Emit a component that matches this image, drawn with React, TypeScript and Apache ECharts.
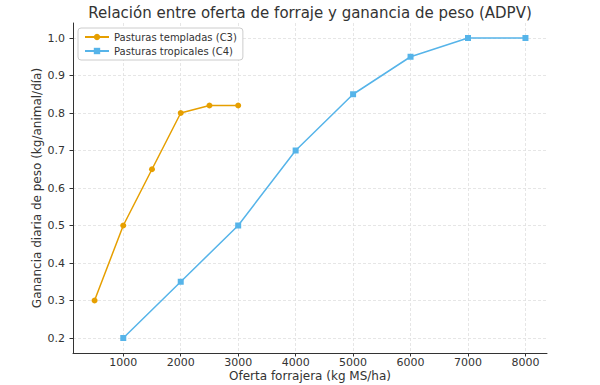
import React, { useEffect, useRef } from "react";
import * as echarts from "echarts";

const c3X = [500, 1000, 1500, 2000, 2500, 3000];
const c3Y = [0.3, 0.5, 0.65, 0.8, 0.82, 0.82];
const c4X = [1000, 2000, 3000, 4000, 5000, 6000, 7000, 8000];
const c4Y = [0.2, 0.35, 0.5, 0.7, 0.85, 0.95, 1.0, 1.0];
const xTicks = [1000, 2000, 3000, 4000, 5000, 6000, 7000, 8000];
const yTicks = [0.2, 0.3, 0.4, 0.5, 0.6, 0.7, 0.8, 0.9, 1.0];

const FONT = "DejaVu Sans";

export default function App() {
  const ref = useRef<HTMLDivElement>(null);
  useEffect(() => {
    const chart = echarts.init(ref.current!, null, { renderer: "svg" });
    chart.setOption({
      animation: false,
      textStyle: { fontFamily: FONT },
      graphic: [
        {
          type: "text",
          x: 310,
          y: 13,
          style: {
            text: "Relación entre oferta de forraje y ganancia de peso (ADPV)",
            align: "center",
            verticalAlign: "middle",
            font: "normal 15px 'DejaVu Sans'",
            fill: "#333",
          },
        },
      ],
      legend: {
        orient: "vertical",
        left: 78,
        top: 28,
        backgroundColor: "#fff",
        borderColor: "#ccc",
        borderWidth: 1,
        borderRadius: 3,
        padding: [4, 6],
        itemGap: 4,
        itemWidth: 24,
        itemHeight: 8,
        textStyle: { fontFamily: FONT, fontSize: 10, color: "#333" },
        data: ["Pasturas templadas (C3)", "Pasturas tropicales (C4)"],
      },
      grid: { left: 73, right: 53, top: 23, bottom: 32, outerBoundsMode: "none" },
      xAxis: {
        type: "value",
        min: 125,
        max: 8375,
        name: "Oferta forrajera (kg MS/ha)",
        nameLocation: "middle",
        nameGap: 17,
        nameMoveOverlap: false,
        nameTextStyle: { fontFamily: FONT, fontSize: 12, color: "#333" },
        axisLine: { lineStyle: { color: "#333", width: 1 } },
        axisTick: { show: true, length: 3.5, customValues: xTicks, lineStyle: { color: "#333" } },
        axisLabel: {
          customValues: xTicks,
          fontSize: 11,
          color: "#333",
          margin: 4,
          fontFamily: FONT,
          formatter: (v: number) => String(v),
        },
        splitLine: { show: true, lineStyle: { color: "#e0e0e0", type: [3, 2], width: 0.8 } },
      },
      yAxis: {
        type: "value",
        min: 0.16,
        max: 1.04,
        name: "Ganancia diaria de peso (kg/animal/día)",
        nameLocation: "middle",
        nameGap: 30,
        nameMoveOverlap: false,
        nameTextStyle: { fontFamily: FONT, fontSize: 12, color: "#333" },
        axisLine: { show: true, lineStyle: { color: "#333", width: 1 } },
        axisTick: { show: true, length: 3.5, customValues: yTicks, lineStyle: { color: "#333" } },
        axisLabel: {
          customValues: yTicks,
          fontSize: 11,
          color: "#333",
          margin: 8,
          fontFamily: FONT,
          formatter: (v: number) => v.toFixed(1),
        },
        splitLine: { show: true, lineStyle: { color: "#e0e0e0", type: [3, 2], width: 0.8 } },
      },
      series: [
        {
          name: "Pasturas templadas (C3)",
          type: "line",
          data: c3X.map((x, i) => [x, c3Y[i]]),
          symbol: "circle",
          symbolSize: 6,
          itemStyle: { color: "#E69F00" },
          lineStyle: { color: "#E69F00", width: 1.5 },
        },
        {
          name: "Pasturas tropicales (C4)",
          type: "line",
          data: c4X.map((x, i) => [x, c4Y[i]]),
          symbol: "rect",
          symbolSize: 6,
          itemStyle: { color: "#56B4E9" },
          lineStyle: { color: "#56B4E9", width: 1.5 },
        },
      ],
    });
    return () => chart.dispose();
  }, []);
  return <div ref={ref} style={{ width: 600, height: 385, position: "absolute", left: 0, top: 0 }} />;
}
